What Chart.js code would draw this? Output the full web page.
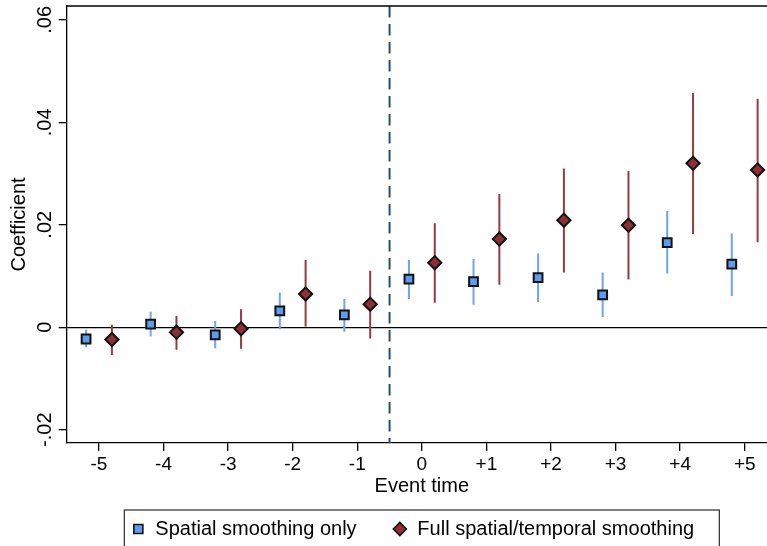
<!DOCTYPE html>
<html>
<head>
<meta charset="utf-8">
<script src="https://cdn.jsdelivr.net/npm/chart.js@4.4.1/dist/chart.umd.min.js"></script>
<style>
  html, body { margin: 0; padding: 0; background: #fff; overflow: hidden; }
  canvas { display: block; }
</style>
</head>
<body>
<!-- the original figure is cropped on the right; the canvas runs a bit past the window -->
<canvas id="eventChart" width="777" height="546"></canvas>
<script>
/* ---------------------------
   Data
--------------------------- */
const eventTimes = [-5, -4, -3, -2, -1, 0, 1, 2, 3, 4, 5];
const xTickLabels = ["-5", "-4", "-3", "-2", "-1", "0", "+1", "+2", "+3", "+4", "+5"];

const spatialCoef = [-0.0023, 0.0006, -0.0015, 0.0032, 0.0024, 0.0094, 0.0089, 0.0097, 0.0063, 0.0165, 0.0123];
const spatialLo   = [-0.0039, -0.0018, -0.0041, -0.0004, -0.0009, 0.0055, 0.0044, 0.0049, 0.0020, 0.0105, 0.0061];
const spatialHi   = [-0.0005, 0.0030, 0.0012, 0.0068, 0.0055, 0.0131, 0.0133, 0.0144, 0.0107, 0.0227, 0.0183];

const fullCoef = [-0.0024, -0.0010, -0.0003, 0.0065, 0.0045, 0.0126, 0.0172, 0.0209, 0.0199, 0.0320, 0.0307];
const fullLo   = [-0.0054, -0.0044, -0.0042, 0.0000, -0.0022, 0.0048, 0.0083, 0.0107, 0.0093, 0.0182, 0.0166];
const fullHi   = [0.0005, 0.0022, 0.0035, 0.0131, 0.0110, 0.0203, 0.0260, 0.0310, 0.0305, 0.0457, 0.0446];

const yTickValues = [-0.02, 0, 0.02, 0.04, 0.06];
const yTickLabels = ["-.02", "0", ".02", ".04", ".06"];

const seriesLabels = ["Spatial smoothing only", "Full spatial/temporal smoothing"];
const seriesShift = 0.2;     // squares left of the tick, diamonds right
const treatmentLine = -0.5;  // dashed vertical line

/* ---------------------------
   Styles
--------------------------- */
const FONT = "'Liberation Sans', Arial, Helvetica, sans-serif";
const BLUE_FILL = "#5E9CEF";
const BLUE_BAR = "#6FA3EE";
const RED_FILL = "#8C3036";
const RED_BAR = "#923C44";
const DASH_COLOR = "#2D4D6E";

Chart.defaults.font.family = FONT;
Chart.defaults.color = "#000";

/* ---------------------------
   Build datasets
--------------------------- */
function points(coefs, shift) {
  return eventTimes.map((t, i) => ({ x: t + shift, y: coefs[i] }));
}
function ranges(lo, hi, shift) {
  return eventTimes.map((t, i) => ({ x: t + shift, y: [lo[i], hi[i]] }));
}

/* ---------------------------
   Plugins: frame, dashed line, y labels, legend
--------------------------- */
const decorations = {
  id: "decorations",
  beforeDatasetsDraw(chart) {
    const { ctx, chartArea, scales } = chart;
    const x = scales.x.getPixelForValue(treatmentLine);
    ctx.save();
    ctx.strokeStyle = DASH_COLOR;
    ctx.lineWidth = 2;
    ctx.setLineDash([11.5, 6.5]);
    ctx.beginPath();
    ctx.moveTo(x, chartArea.top);
    ctx.lineTo(x, chartArea.bottom);
    ctx.stroke();
    ctx.restore();
  },
  afterDraw(chart) {
    const { ctx, chartArea, scales } = chart;

    // top frame line
    ctx.save();
    ctx.strokeStyle = "#000";
    ctx.lineWidth = 1.3;
    ctx.beginPath();
    ctx.moveTo(chartArea.left, chartArea.top);
    ctx.lineTo(chartArea.right, chartArea.top);
    ctx.stroke();
    ctx.restore();

    // y tick labels, rotated like the original
    ctx.save();
    ctx.font = "20px " + FONT;
    ctx.fillStyle = "#000";
    ctx.textAlign = "center";
    ctx.textBaseline = "alphabetic";
    yTickValues.forEach((v, i) => {
      const y = scales.y.getPixelForValue(v);
      ctx.save();
      ctx.translate(50.5, y);
      ctx.rotate(-Math.PI / 2);
      ctx.fillText(yTickLabels[i], 0, 0);
      ctx.restore();
    });
    ctx.restore();

    // legend box
    const cx = (chartArea.left + chartArea.right) / 2;
    const top = 510;
    const mid = 529;
    ctx.save();
    ctx.strokeStyle = "#3a3a3a";
    ctx.lineWidth = 1.3;
    ctx.strokeRect(cx - 297.5, top, 595, 60);

    // square marker
    ctx.fillStyle = BLUE_FILL;
    ctx.strokeStyle = "#111";
    ctx.lineWidth = 1.6;
    ctx.beginPath();
    ctx.rect(cx - 283.5 - 4.5, mid - 4.5, 9, 9);
    ctx.fill();
    ctx.stroke();

    // diamond marker
    const dx = cx - 22;
    ctx.fillStyle = RED_FILL;
    ctx.beginPath();
    ctx.moveTo(dx - 6.5, mid);
    ctx.lineTo(dx, mid - 6.5);
    ctx.lineTo(dx + 6.5, mid);
    ctx.lineTo(dx, mid + 6.5);
    ctx.closePath();
    ctx.fill();
    ctx.stroke();

    ctx.fillStyle = "#000";
    ctx.font = "20px " + FONT;
    ctx.textAlign = "left";
    ctx.textBaseline = "middle";
    ctx.fillText(seriesLabels[0], cx - 266.5, mid);
    ctx.fillText(seriesLabels[1], cx - 4.5, mid);
    ctx.restore();
  }
};

/* ---------------------------
   Chart
--------------------------- */
const ctx = document.getElementById("eventChart").getContext("2d");

new Chart(ctx, {
  type: "scatter",
  data: {
    datasets: [
      {
        type: "bar",
        label: seriesLabels[0] + " CI",
        data: ranges(spatialLo, spatialHi, -seriesShift),
        backgroundColor: BLUE_BAR,
        borderWidth: 0,
        grouped: false,
        maxBarThickness: 2,
        order: 3
      },
      {
        type: "bar",
        label: seriesLabels[1] + " CI",
        data: ranges(fullLo, fullHi, seriesShift),
        backgroundColor: RED_BAR,
        borderWidth: 0,
        grouped: false,
        maxBarThickness: 2,
        order: 3
      },
      {
        label: seriesLabels[0],
        data: points(spatialCoef, -seriesShift),
        pointStyle: "rect",
        pointRadius: 6.2,
        pointBackgroundColor: BLUE_FILL,
        pointBorderColor: "#111",
        pointBorderWidth: 2,
        order: 1
      },
      {
        label: seriesLabels[1],
        data: points(fullCoef, seriesShift),
        pointStyle: "rectRot",
        pointRadius: 6.6,
        pointBackgroundColor: RED_FILL,
        pointBorderColor: "#111",
        pointBorderWidth: 2,
        order: 1
      }
    ]
  },
  options: {
    responsive: false,
    animation: false,
    events: [],
    // autoPadding would add room for the point radius on every side
    layout: { autoPadding: false, padding: { top: 6, left: 0, right: 0, bottom: 36 } },
    plugins: {
      legend: { display: false },
      tooltip: { enabled: false }
    },
    scales: {
      x: {
        type: "linear",
        min: -5.5,
        max: 5.5,
        offset: false,
        afterFit(scale) {
          scale.height = 67;
          scale.paddingLeft = 0;
          scale.paddingRight = 0;
        },
        afterBuildTicks(scale) { scale.ticks = eventTimes.map(v => ({ value: v })); },
        grid: {
          offset: false,
          drawOnChartArea: false,
          color: "#000",
          tickLength: 8,
          lineWidth: 1.3
        },
        border: { color: "#000", width: 1.3 },
        ticks: {
          autoSkip: false,
          maxRotation: 0,
          padding: 2,
          font: { size: 19 },
          color: "#000",
          callback: (v, i) => xTickLabels[i]
        },
        title: {
          display: true,
          text: "Event time",
          font: { size: 20 },
          color: "#000",
          padding: { top: 0, bottom: 11.7 }
        }
      },
      y: {
        type: "linear",
        min: -0.0226,
        max: 0.0627,
        afterFit(scale) { scale.width = 66.7; },
        afterBuildTicks(scale) { scale.ticks = yTickValues.map(v => ({ value: v })); },
        grid: {
          drawOnChartArea: true,
          color: c => (c.tick && c.tick.value === 0 ? "#000" : "rgba(0,0,0,0)"),
          tickColor: "#000",
          tickLength: 8,
          lineWidth: 1.3
        },
        border: { color: "#000", width: 1.3 },
        ticks: { display: false },
        title: {
          display: true,
          text: "Coefficient",
          font: { size: 20 },
          color: "#000",
          padding: { top: 7.5, bottom: 0 }
        }
      }
    }
  },
  plugins: [decorations]
});
</script>
</body>
</html>
